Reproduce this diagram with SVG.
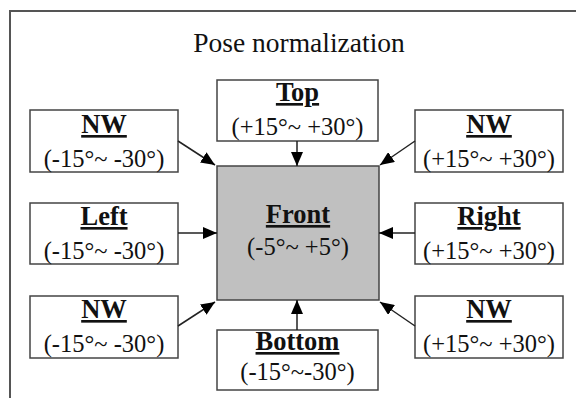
<svg xmlns="http://www.w3.org/2000/svg" width="576" height="398" viewBox="0 0 576 398">
  <defs>
    <marker id="arrow" viewBox="0 0 14 12" refX="14" refY="6" markerWidth="14" markerHeight="12" markerUnits="userSpaceOnUse" orient="auto">
      <path d="M0,0 L14,6 L0,12 Z" fill="#000"/>
    </marker>
  </defs>
  <style>
    .box { fill: #fff; stroke: #444; stroke-width: 1.5; }
    .front { fill: #c0c0c0; stroke: #444; stroke-width: 1.5; }
    .lbl { font-family: "Liberation Serif", "Times New Roman", serif; font-size: 26.5px; font-weight: bold; text-decoration: underline; text-anchor: middle; fill: #111; }
    .rng { font-family: "Liberation Serif", "Times New Roman", serif; font-size: 24.5px; text-anchor: middle; fill: #111; }
    .title { font-family: "Liberation Serif", "Times New Roman", serif; font-size: 27.5px; text-anchor: middle; fill: #111; }
    .conn line { stroke: #222; stroke-width: 1.5; marker-end: url(#arrow); }
  </style>
  <rect width="576" height="398" fill="#fff"/>
  <!-- outer frame (open to the right and bottom) -->
  <path d="M10,400 V11 H580" fill="none" stroke="#555" stroke-width="2"/>
  <text class="title" x="299" y="52">Pose normalization</text>

  <g id="top">
    <rect class="box" x="217" y="80" width="161" height="61"/>
    <text class="lbl" x="297.5" y="101">Top</text>
    <text class="rng" x="297.5" y="135">(+15°~ +30°)</text>
  </g>
  <g id="nw-top-left">
    <rect class="box" x="30" y="110" width="148" height="62"/>
    <text class="lbl" x="104" y="133">NW</text>
    <text class="rng" x="104" y="167">(-15°~ -30°)</text>
  </g>
  <g id="nw-top-right">
    <rect class="box" x="415" y="110" width="148" height="62"/>
    <text class="lbl" x="489" y="133">NW</text>
    <text class="rng" x="489" y="167">(+15°~ +30°)</text>
  </g>
  <g id="left">
    <rect class="box" x="30" y="203" width="148" height="61"/>
    <text class="lbl" x="104" y="225">Left</text>
    <text class="rng" x="104" y="259">(-15°~ -30°)</text>
  </g>
  <g id="front">
    <rect class="front" x="217" y="166" width="162" height="134"/>
    <text class="lbl" x="298" y="223">Front</text>
    <text class="rng" x="298" y="255">(-5°~ +5°)</text>
  </g>
  <g id="right">
    <rect class="box" x="415" y="203" width="148" height="61"/>
    <text class="lbl" x="489" y="225">Right</text>
    <text class="rng" x="489" y="259">(+15°~ +30°)</text>
  </g>
  <g id="nw-bottom-left">
    <rect class="box" x="30" y="296" width="148" height="62"/>
    <text class="lbl" x="104" y="318">NW</text>
    <text class="rng" x="104" y="352">(-15°~ -30°)</text>
  </g>
  <g id="nw-bottom-right">
    <rect class="box" x="415" y="296" width="148" height="62"/>
    <text class="lbl" x="489" y="318">NW</text>
    <text class="rng" x="489" y="352">(+15°~ +30°)</text>
  </g>
  <g id="bottom">
    <rect class="box" x="217" y="330" width="161" height="60"/>
    <text class="lbl" x="297.5" y="350">Bottom</text>
    <text class="rng" x="297.5" y="380">(-15°~-30°)</text>
  </g>

  <g id="connectors" class="conn">
    <line x1="297" y1="141" x2="297" y2="166"/>
    <line x1="297" y1="330" x2="297" y2="300"/>
    <line x1="178" y1="233" x2="217" y2="233"/>
    <line x1="415" y1="233" x2="379" y2="233"/>
    <line x1="178" y1="141" x2="215" y2="165"/>
    <line x1="415" y1="141" x2="380" y2="165"/>
    <line x1="178" y1="326" x2="215" y2="302"/>
    <line x1="415" y1="326" x2="380" y2="302"/>
  </g>
</svg>
